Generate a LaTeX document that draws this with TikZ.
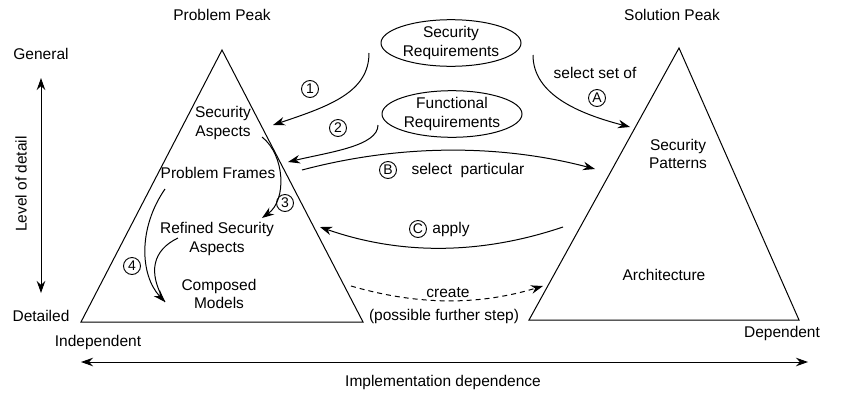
\documentclass[tikz,border=0pt]{standalone}
\usepackage{fontspec}
\setmainfont{Liberation Sans}
\usetikzlibrary{arrows.meta,shapes.geometric}
\begin{document}
\begin{tikzpicture}[x=1pt,y=-1pt,
  every node/.style={font=\fontsize{15.5}{18.5}\selectfont, align=center, inner sep=1pt},
  cnum/.style={circle, draw, line width=0.9pt, inner sep=0pt, minimum size=17pt, font=\fontsize{14}{14}\selectfont},
  req/.style={ellipse, draw, line width=1pt, minimum width=140pt, minimum height=44pt, inner sep=0pt},
  tri/.style={draw, line width=1pt, line join=miter},
  arr/.style={-{Stealth[length=12pt,width=8.5pt]}, line width=1pt},
  darr/.style={{Stealth[length=12pt,width=8.5pt]}-{Stealth[length=12pt,width=8.5pt]}, line width=1pt},
  plain/.style={line width=1pt},
  dsh/.style={dash pattern=on 5pt off 4pt}]
\useasboundingbox (0,0) rectangle (845,394);

% triangles
\coordinate (pa) at (222,50);
\coordinate (pl) at (81,322);
\coordinate (pr) at (363,322);
\coordinate (sa) at (679,48);
\coordinate (sl) at (529,320);
\coordinate (sr) at (799,320);
\draw[tri] (pa) -- (pl) -- (pr) -- cycle;
\draw[tri] (sa) -- (sl) -- (sr) -- cycle;

% titles and axis labels
\node (ppeak) at (222,15) {Problem Peak};
\node (speak) at (672,15) {Solution Peak};
\node (general) at (41,54) {General};
\node (detailed) at (41,316) {Detailed};
\node[rotate=90] (lod) at (21,184) {Level of detail};
\node (indep) at (98,342) {Independent};
\node (dep) at (782,333) {Dependent};
\node (impl) at (443,382) {Implementation dependence};

\coordinate (vt) at (41,78);
\coordinate (vb) at (41,293);
\draw[darr] (vt) -- (vb);
\coordinate (hl) at (81,362);
\coordinate (hr) at (808,362);
\draw[darr] (hl) -- (hr);

% problem peak contents
\node (secasp) at (223,123) {Security\\Aspects};
\node (pframes) at (218,173) {Problem Frames};
\node (refined) at (217,239) {Refined Security\\Aspects};
\node (composed) at (219,294) {Composed\\Models};

% solution peak contents
\node (secpat) at (678,154) {Security\\Patterns};
\node (arch) at (664,275) {Architecture};

% requirements
\node[req] (secreq) at (451,43) {Security\\Requirements};
\node[req] (funreq) at (452,114) {Functional\\Requirements};

% arrow 1
\coordinate (a1s) at (369,53);
\coordinate (a1e) at (273,125);
\draw[arr] (a1s) .. controls (369,92) and (330,106) .. (a1e);
\node[cnum] (c1) at (310,89) {1};

% arrow 2
\coordinate (a2s) at (378,125);
\coordinate (a2e) at (288,162);
\draw[arr] (a2s) .. controls (378,146) and (330,152) .. (a2e);
\node[cnum] (c2) at (338,128) {2};

% arrow 3
\coordinate (a3s) at (262,137);
\coordinate (a3e) at (262,218);
\draw[arr] (a3s) .. controls (285,155) and (287,200) .. (a3e);
\node[cnum] (c3) at (285,203) {3};

% arrow 4
\coordinate (a4s) at (165,189);
\coordinate (a4m) at (178,238);
\coordinate (a4e) at (165,302);
\draw[plain] (a4m) .. controls (153,250) and (147,272) .. (a4e);
\draw[arr] (a4s) .. controls (138,228) and (140,275) .. (a4e);
\node[cnum] (c4) at (132,266) {4};

% arrow A
\coordinate (aAs) at (533,55);
\coordinate (aAe) at (630,127);
\draw[arr] (aAs) .. controls (533,95) and (580,114) .. (aAe);
\node (selset) at (595,73) {select set of};
\node[cnum] (cA) at (597,98) {A};

% arrow B
\coordinate (aBs) at (302,170);
\coordinate (aBe) at (595,169);
\draw[arr] (aBs) .. controls (400,144) and (500,144) .. (aBe);
\node[cnum] (cB) at (388,170) {B};
\node (selpart) at (468,170) {select\ \ particular};

% arrow C
\coordinate (aCs) at (563,227);
\coordinate (aCe) at (320,227);
\draw[arr] (aCs) .. controls (480,255) and (400,255) .. (aCe);
\node[cnum] (cC) at (418,229) {C};
\node (apply) at (451,229) {apply};

% dashed create
\coordinate (aDs) at (351,286);
\coordinate (aDe) at (543,286);
\draw[arr,dsh] (aDs) .. controls (420,306) and (480,305) .. (aDe);
\node (create) at (448,293) {create};
\node (further) at (444,316) {(possible further step)};
\end{tikzpicture}
\end{document}
